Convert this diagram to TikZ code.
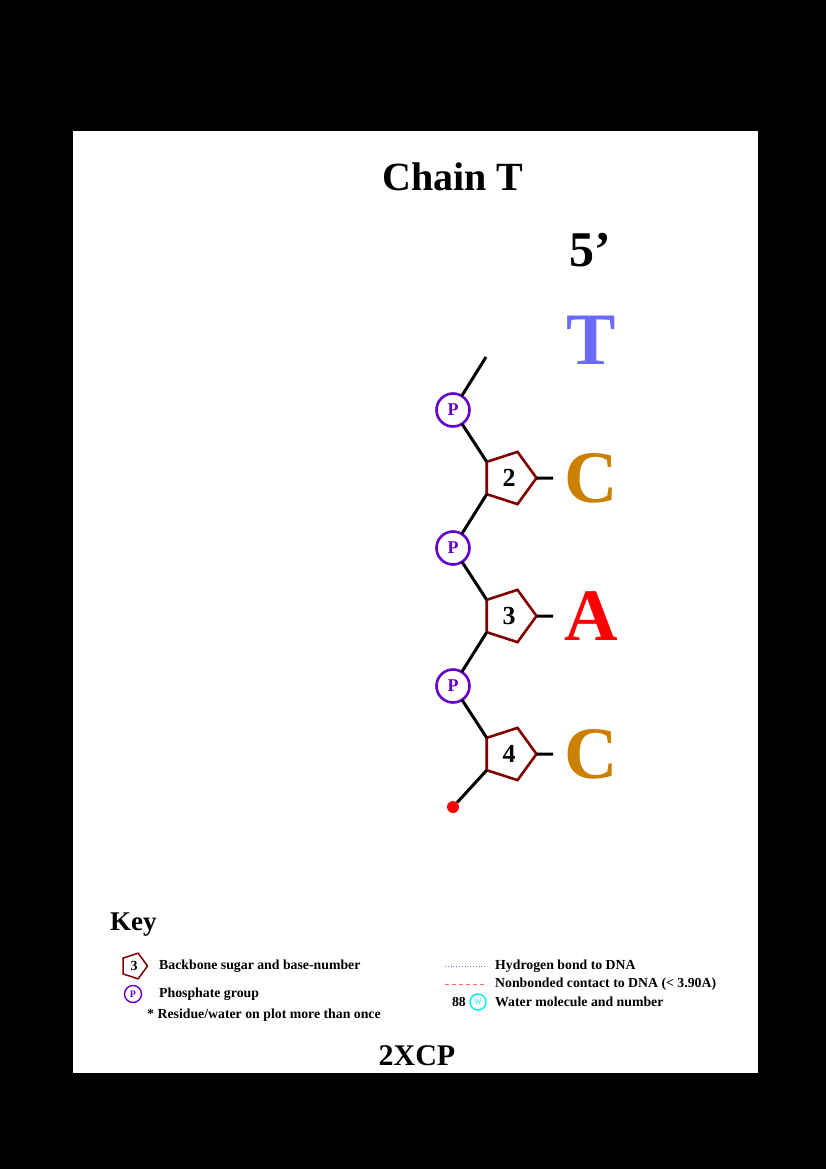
\documentclass[tikz,border=0pt]{standalone}
\usepackage{fontspec}
\setmainfont{Liberation Serif}
\usetikzlibrary{shapes.geometric}
\definecolor{baseT}{HTML}{6B6BFF}
\definecolor{baseC}{HTML}{CC8000}
\definecolor{baseA}{HTML}{FF0000}
\definecolor{sugarred}{HTML}{800000}
\definecolor{phospurple}{HTML}{6600CC}
\definecolor{watercyan}{HTML}{00F0F0}
\definecolor{hbondblue}{HTML}{6464FF}
\definecolor{contactred}{HTML}{FF6464}

\begin{document}
\begin{tikzpicture}[x=1pt, y=-1pt,
    sugar/.style={regular polygon, regular polygon sides=5, shape border rotate=-90,
      draw=sugarred, line width=2.6pt, minimum size=55pt, inner sep=0pt, outer sep=0pt,
      font=\fontsize{26}{26}\selectfont\bfseries},
    phos/.style={circle, draw=phospurple, line width=2.6pt, minimum size=33pt,
      inner sep=0pt, outer sep=0pt, text=phospurple, font=\fontsize{18}{18}\selectfont\bfseries},
    bond/.style={line width=3pt},
    base/.style={inner xsep=11pt, font=\fontsize{74}{74}\selectfont\bfseries},
    keytext/.style={anchor=west, inner sep=0pt, font=\fontsize{13.8}{14}\selectfont\bfseries}]
  \fill[black] (0,0) rectangle (826,1169);
  \fill[white] (73,131) rectangle (758,1073);
  \node[font=\fontsize{40}{40}\selectfont\bfseries] (title) at (453,177) {Chain T};
  \node[font=\fontsize{50}{50}\selectfont\bfseries] (fiveprime) at (590,250) {5’};
  \node[base, text=baseT] (b1) at (591,340) {T};
  \foreach \n/\y in {1/410, 2/548, 3/686}{
    \node[phos] (p\n) at (453,\y) {P};
  }
  \foreach \n/\y/\b/\c in {2/478/C/baseC, 3/616/A/baseA, 4/754/C/baseC}{
    \node[sugar] (s\n) at (509,\y) {\n};
    \node[base, text=\c] (b\n) at (591,\y) {\b};
    \draw[bond] (s\n.0) -- (b\n.west);
  }
  \coordinate (start) at (486,357);
  \node[circle, fill=red, minimum size=12pt, inner sep=0pt] (tail) at (453,807) {};
  \draw[bond] (start) -- (p1);
  \draw[bond] (p1) -- (s2.144);
  \draw[bond] (s2.216) -- (p2);
  \draw[bond] (p2) -- (s3.144);
  \draw[bond] (s3.216) -- (p3);
  \draw[bond] (p3) -- (s4.144);
  \draw[bond] (s4.216) -- (tail);
  \node[anchor=west, font=\fontsize{27}{27}\selectfont\bfseries, inner sep=0pt] (keytitle) at (110,925) {Key};
  \node[sugar, minimum size=27pt, line width=1.5pt, font=\fontsize{14}{14}\selectfont\bfseries] (keysugar) at (134,966) {3};
  \node[keytext] (keysugartext) at (159,966) {Backbone sugar and base-number};
  \node[phos, minimum size=17pt, line width=1.4pt, font=\fontsize{10}{10}\selectfont\bfseries] (keyphos) at (133,994) {P};
  \node[keytext] (keyphostext) at (159,994) {Phosphate group};
  \node[keytext] (keymulti) at (147,1015) {* Residue/water on plot more than once};
  \coordinate (hb1) at (445,966);
  \coordinate (hb2) at (487,966);
  \draw[hbondblue, line width=0.8pt, dotted] (hb1) -- (hb2);
  \node[keytext] (keyhbtext) at (495,966) {Hydrogen bond to DNA};
  \coordinate (nb1) at (445,984);
  \coordinate (nb2) at (487,984);
  \draw[contactred, line width=0.8pt, dash pattern=on 4pt off 3pt] (nb1) -- (nb2);
  \node[keytext] (keynbtext) at (495,984) {Nonbonded contact to DNA (< 3.90A)};
  \node[keytext, anchor=east] (keywaternum) at (466,1002) {88};
  \node[circle, draw=watercyan, line width=1.4pt, minimum size=16pt, inner sep=0pt,
    text=watercyan, font=\fontsize{8}{8}\selectfont] (keywater) at (478,1002) {W};
  \node[keytext] (keywatertext) at (495,1002) {Water molecule and number};
  \node[font=\fontsize{30}{30}\selectfont\bfseries] (pdbid) at (417,1056) {2XCP};
\end{tikzpicture}
\end{document}
